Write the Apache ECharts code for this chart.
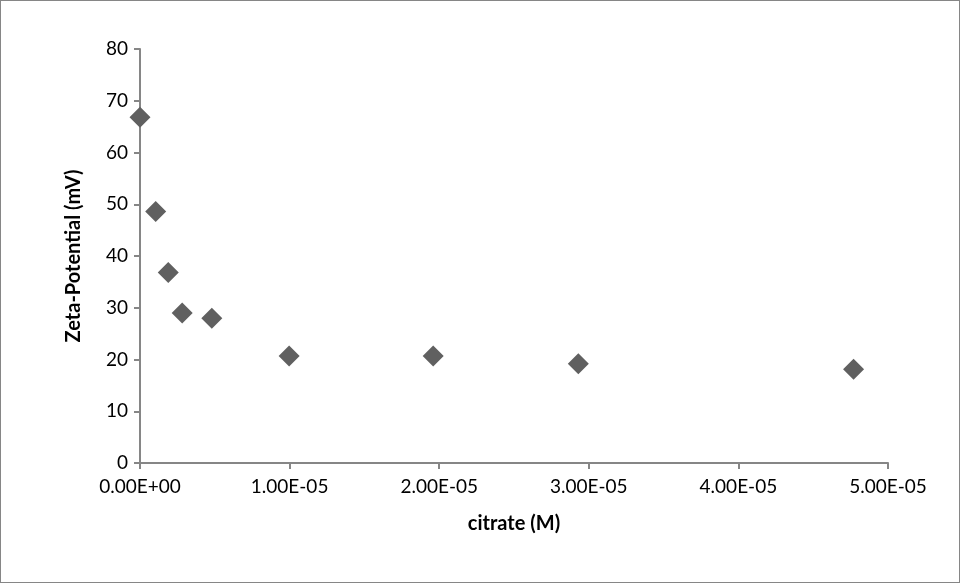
<!DOCTYPE html>
<html><head><meta charset="utf-8">
<script src="https://cdn.jsdelivr.net/npm/echarts@6/dist/echarts.min.js"></script>
<style>html,body{margin:0;padding:0;background:#fff}#c{width:960px;height:583px;box-sizing:border-box;border:1px solid #868686}</style>
</head><body><div id="c"></div>
<script>
const citrate = [0, 1.05e-6, 1.89e-6, 2.82e-6, 4.8e-6, 9.97e-6, 1.96e-5, 2.93e-5, 4.77e-5];
const zeta = [66.8, 48.6, 36.8, 29.0, 27.95, 20.7, 20.7, 19.2, 18.1];
const xTitle = 'citrate (M)';
const yTitle = 'Zeta-Potential (mV)';
function fmtE(v){
  let s = Number(v).toExponential(2).toUpperCase();
  return s.replace(/E([+-])(\d)$/, 'E$10$2');
}
const chart = echarts.init(document.getElementById('c'));
const font = 'Lato, "Open Sans", sans-serif';
chart.setOption({
  animation:false,
  grid:{left:139,right:71,top:48,bottom:119,containLabel:false},
  xAxis:{type:'value',min:0,max:5e-5,interval:1e-5,
    name:xTitle,nameLocation:'middle',nameGap:51,
    nameTextStyle:{fontFamily:font,fontSize:20,fontWeight:'bold',color:'#000'},
    axisLine:{show:true,lineStyle:{color:'#868686',width:2}},
    axisTick:{show:true,length:6,lineStyle:{color:'#868686',width:2}},
    splitLine:{show:false},
    axisLabel:{formatter:fmtE,fontFamily:font,fontSize:19,color:'#000',margin:14}},
  yAxis:{type:'value',min:0,max:80,interval:10,
    name:yTitle,nameLocation:'middle',nameGap:56,nameRotate:90,
    nameTextStyle:{fontFamily:font,fontSize:20,fontWeight:'bold',color:'#000'},
    axisLine:{show:true,lineStyle:{color:'#868686',width:2}},
    axisTick:{show:true,length:6,lineStyle:{color:'#868686',width:2}},
    splitLine:{show:false},
    axisLabel:{fontFamily:font,fontSize:19,color:'#000',margin:12}},
  series:[{type:'scatter',symbol:'diamond',symbolSize:[21,21],
    itemStyle:{color:'#606060',opacity:1},
    data:citrate.map((x,i)=>[x,zeta[i]])}]
});
</script></body></html>
